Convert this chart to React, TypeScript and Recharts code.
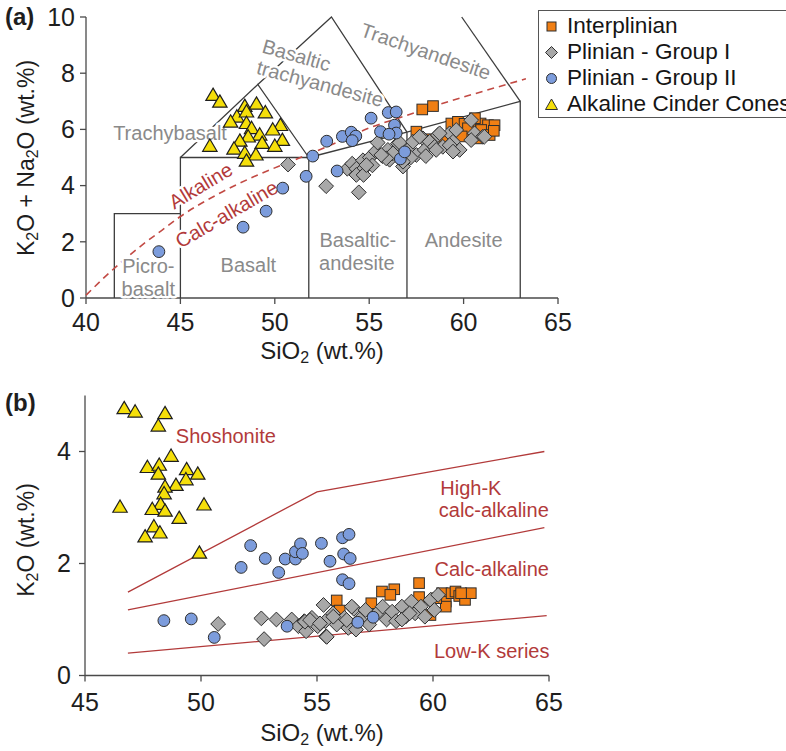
import React from "react";
import { ScatterChart, Scatter, XAxis, YAxis } from "recharts";

const FONT = "'Liberation Sans', Arial, Helvetica, sans-serif";

type P = [number, number];

// ---------- (a) TAS diagram ----------
const tasXTicks = [40, 45, 50, 55, 60, 65];
const tasYTicks = [0, 2, 4, 6, 8, 10];

const tasInterplinian: P[] = [
  [57.81, 6.71], [58.38, 6.83], [57.5, 5.92], [59.35, 6.21], [59.7, 6.27], [60.05, 6.2],
  [60.58, 6.21], [60.9, 6.21], [61.29, 6.15], [61.64, 6.15], [60.93, 5.98], [61.38, 5.8],
  [60.76, 5.68], [60.14, 5.86], [59.44, 5.62], [58.9, 5.74], [60.23, 6.04], [61.6, 5.95],
  [58.3, 5.65], [60.6, 6.4], [59.9, 5.75],
];

const tasGroupI: P[] = [
  [50.7, 4.75], [52.72, 3.98], [54.45, 3.76], [53.84, 4.6], [54.1, 4.78], [54.32, 4.6],
  [54.65, 4.56], [54.67, 4.9], [54.32, 4.38], [54.7, 4.38], [55.03, 5.0], [55.17, 4.72],
  [55.35, 5.22], [55.45, 5.53], [55.7, 5.05], [55.99, 5.27], [56.08, 4.92], [56.26, 5.15],
  [56.52, 5.5], [56.61, 5.53], [56.79, 4.68], [57.05, 5.27], [57.32, 5.56], [57.5, 5.09],
  [57.85, 5.68], [57.94, 5.27], [58.2, 5.56], [58.47, 5.38], [58.64, 5.8], [58.9, 5.38],
  [59.26, 5.86], [59.44, 5.56], [59.61, 5.98], [59.79, 5.27], [60.4, 6.33], [60.58, 5.86],
  [61.02, 5.74], [54.85, 4.73], [55.9, 4.97], [55.64, 5.09], [57.2, 5.0], [58.0, 5.05],
  [58.55, 5.27], [59.26, 5.44], [59.44, 5.21], [60.4, 5.62], [61.1, 5.74], [56.79, 4.85],
  [57.67, 5.74], [58.73, 5.86],
];

const tasGroupII: P[] = [
  [43.86, 1.65], [48.32, 2.52], [49.54, 3.09], [50.42, 3.91], [51.66, 4.33], [52.01, 5.05],
  [52.75, 5.58], [53.3, 4.52], [53.58, 5.75], [54.05, 5.9], [54.29, 5.76], [54.1, 5.6],
  [55.1, 6.4], [55.6, 5.92], [56.01, 6.6], [56.43, 6.62], [56.34, 6.15], [56.43, 5.87],
  [56.05, 5.83], [56.65, 4.95], [56.88, 5.2],
];

const tasCinder: P[] = [
  [46.73, 7.22], [47.09, 6.98], [46.56, 5.41], [48.41, 6.83], [49.03, 6.91], [47.99, 6.45],
  [48.5, 6.63], [49.5, 6.6], [47.66, 6.27], [48.5, 6.22], [48.77, 6.04], [50.3, 6.15],
  [49.89, 5.99], [49.2, 5.81], [48.59, 5.74], [48.15, 5.59], [49.33, 5.51], [50.4, 5.62],
  [50.0, 5.41], [47.84, 5.31], [48.41, 5.16], [49.0, 5.1], [48.5, 4.88],
];

// field boundaries
const tasPicro: P[] = [[41.5, 0], [41.5, 3], [45, 3]];
const tasBasalt: P[] = [[45, 0], [45, 5], [51.8, 5], [51.8, 0]];
const tasTrachybasalt: P[] = [[45, 5], [49.1, 7.6], [51.8, 5]];
const tasBTA: P[] = [[49.1, 7.6], [53, 10], [57, 5.9]];
const tasAndesite: P[] = [[51.8, 5], [57, 5.9], [63, 7], [63, 0]];
const tasBAndesite: P[] = [[57, 5.9], [57, 0]];
const tasTrachyandesite: P[] = [[63, 7], [59.9, 10]];
const tasAlkDivide: P[] = [
  [40, 0.1], [41, 0.75], [42, 1.35], [43, 1.9], [44, 2.4], [45, 2.9], [47, 3.7], [49, 4.35],
  [51, 4.9], [53, 5.45], [55, 6.05], [57, 6.5], [59, 6.95], [61, 7.35], [63.3, 7.8],
];

const tasFieldLabels = [
  { x: 43.3, y: 1.15, text: "Picro-", angle: 0 },
  { x: 43.3, y: 0.33, text: "basalt", angle: 0 },
  { x: 48.6, y: 1.18, text: "Basalt", angle: 0 },
  { x: 54.4, y: 2.07, text: "Basaltic-", angle: 0 },
  { x: 54.35, y: 1.24, text: "andesite", angle: 0 },
  { x: 60.0, y: 2.05, text: "Andesite", angle: 0 },
  { x: 44.45, y: 5.88, text: "Trachybasalt", angle: 0 },
  { x: 51.15, y: 8.64, text: "Basaltic", angle: 16 },
  { x: 52.4, y: 7.63, text: "trachyandesite", angle: 15 },
  { x: 58.0, y: 8.78, text: "Trachyandesite", angle: 19 },
];
const tasSeriesLabels = [
  { x: 46.07, y: 4.0, text: "Alkaline", angle: -31 },
  { x: 47.44, y: 2.99, text: "Calc-alkaline", angle: -30 },
];

// ---------- (b) K2O vs SiO2 ----------
const kXTicks = [45, 50, 55, 60, 65];
const kYTicks = [0, 2, 4];

const kInterplinian: P[] = [
  [55.85, 1.34], [55.98, 1.16], [57.8, 1.5], [58.33, 1.54], [58.16, 1.44], [59.4, 1.65],
  [59.4, 1.4], [57.34, 1.29], [59.89, 1.08], [60.39, 1.47], [60.55, 1.32], [60.8, 1.47],
  [60.97, 1.5], [61.13, 1.42], [61.38, 1.35], [61.63, 1.47], [61.21, 1.47], [60.55, 1.23],
  [60.14, 1.38],
];

const kGroupI: P[] = [
  [50.74, 0.92], [52.6, 1.02], [52.72, 0.65], [53.25, 1.0], [53.91, 1.0], [54.2, 0.88],
  [54.45, 0.97], [54.53, 0.79], [54.78, 1.03], [55.03, 0.88], [55.28, 1.26], [55.36, 0.97],
  [55.39, 0.7], [55.69, 1.11], [55.85, 0.91], [56.18, 1.03], [56.35, 0.85], [56.59, 1.19],
  [56.84, 1.0], [57.09, 1.17], [57.25, 0.91], [57.58, 1.11], [57.83, 1.23], [58.0, 1.0],
  [58.24, 1.14], [58.41, 0.97], [58.66, 1.23], [58.82, 1.05], [59.07, 1.32], [59.23, 1.11],
  [59.48, 1.23], [59.65, 1.05], [59.89, 1.35], [60.06, 1.17], [60.22, 1.44], [56.68, 0.82],
  [58.66, 1.0], [58.99, 1.11], [54.48, 0.96], [54.7, 0.99], [55.13, 0.93], [55.42, 0.69],
  [55.7, 1.05], [56.28, 0.99], [56.5, 1.23],
];

const kGroupII: P[] = [
  [48.4, 0.98], [49.58, 1.01], [50.57, 0.68], [51.73, 1.93], [52.14, 2.32], [52.77, 2.09],
  [53.35, 1.84], [53.63, 2.08], [54.07, 2.08], [54.07, 2.21], [54.29, 2.35], [54.37, 2.18],
  [55.19, 2.36], [55.56, 2.04], [56.1, 2.46], [56.38, 2.52], [56.15, 2.17], [56.43, 2.09],
  [56.1, 1.71], [56.38, 1.64], [53.71, 0.88], [56.76, 0.95], [57.42, 1.04],
];

const kCinder: P[] = [
  [46.69, 4.77], [47.16, 4.71], [48.45, 4.68], [48.16, 4.46], [48.71, 3.92], [47.69, 3.72],
  [48.2, 3.76], [48.16, 3.6], [49.38, 3.68], [49.86, 3.6], [49.35, 3.5], [48.92, 3.4],
  [48.45, 3.37], [48.41, 3.25], [46.51, 3.01], [48.26, 3.06], [47.9, 2.97], [48.45, 2.94],
  [50.13, 3.05], [49.06, 2.81], [47.97, 2.66], [47.59, 2.48], [48.23, 2.55], [49.93, 2.19],
];

const kShoshoniteLine: P[] = [[46.85, 1.49], [55, 3.28], [64.8, 4.0]];
const kHighKLine: P[] = [[46.85, 1.17], [64.8, 2.64]];
const kLowKLine: P[] = [[46.85, 0.4], [64.9, 1.07]];

const kSeriesLabels = [
  { x: 51.07, y: 4.28, text: "Shoshonite", angle: 0 },
  { x: 61.63, y: 3.34, text: "High-K", angle: 0 },
  { x: 62.62, y: 2.95, text: "calc-alkaline", angle: 0 },
  { x: 62.53, y: 1.91, text: "Calc-alkaline", angle: 0 },
  { x: 62.53, y: 0.43, text: "Low-K series", angle: 0 },
];

// ---------- helpers ----------
const pts = (arr: P[]) => arr.map(([x, y]) => ({ x, y }));

const AXIS = "#4a4a4a";
const EDGE = "#2e2e2e";
const RED = "#b23a3a";
const ORANGE = "#f07f14";
const GRAY = "#a8a8a8";
const BLUE = "#7c9cdc";
const YELLOW = "#f5df0a";

const squareShape = (p: any) => (
  <rect x={p.cx - 5.3} y={p.cy - 5.3} width={10.6} height={10.6} fill={ORANGE} stroke={EDGE} strokeWidth={1} />
);
const diamondShape = (p: any) => (
  <path
    d={`M${p.cx},${p.cy - 7.4}L${p.cx + 7.4},${p.cy}L${p.cx},${p.cy + 7.4}L${p.cx - 7.4},${p.cy}Z`}
    fill={GRAY}
    stroke={EDGE}
    strokeWidth={1}
  />
);
const circleShape = (p: any) => <circle cx={p.cx} cy={p.cy} r={5.9} fill={BLUE} stroke={EDGE} strokeWidth={1} />;
const triangleShape = (p: any) => (
  <path
    d={`M${p.cx},${p.cy - 7}L${p.cx + 7.2},${p.cy + 5.3}L${p.cx - 7.2},${p.cy + 5.3}Z`}
    fill={YELLOW}
    stroke="#1e1e1e"
    strokeWidth={1.2}
  />
);
const noShape = () => <g />;

const labelShape = (color: string, size: number) => (p: any) => {
  const d = p.payload;
  return (
    <text
      transform={`translate(${p.cx},${p.cy}) rotate(${d.angle || 0})`}
      textAnchor="middle"
      dominantBaseline="central"
      fill={color}
      fontSize={size}
      fontFamily={FONT}
      stroke="#fff"
      strokeWidth={5}
      strokeLinejoin="round"
      paintOrder="stroke"
    >
      {d.text}
    </text>
  );
};

const boundary = (arr: P[], key: string, stroke = "#3c3c3c") => (
  <Scatter
    key={key}
    data={pts(arr)}
    shape={noShape}
    line={{ stroke, strokeWidth: 1.3 }}
    isAnimationActive={false}
  />
);

const tickStyle = { fill: "#1e1e1e", fontSize: 25, fontFamily: FONT };

function Legend() {
  const items = [
    { label: "Interplinian", mark: <rect x={8} y={8} width={9} height={9} fill={ORANGE} stroke={EDGE} /> },
    { label: "Plinian - Group I", mark: <path d="M12.5,6.5L18.5,12.5L12.5,18.5L6.5,12.5Z" fill={GRAY} stroke={EDGE} /> },
    { label: "Plinian - Group II", mark: <circle cx={12.5} cy={12.5} r={5} fill={BLUE} stroke={EDGE} /> },
    { label: "Alkaline Cinder Cones", mark: <path d="M12.5,7L18.5,17.5L6.5,17.5Z" fill={YELLOW} stroke={EDGE} /> },
  ];
  return (
    <div
      style={{
        position: "absolute",
        left: 538,
        top: 10,
        width: 280,
        height: 108,
        border: "1px solid #555",
        boxSizing: "border-box",
        background: "#fff",
        fontFamily: FONT,
        fontSize: 22.6,
        color: "#151515",
        paddingTop: 2,
      }}
    >
      {items.map((it) => (
        <div key={it.label} style={{ display: "flex", alignItems: "center", height: 26, whiteSpace: "nowrap" }}>
          <svg width={28} height={25} style={{ flex: "none" }}>
            {it.mark}
          </svg>
          <span>{it.label}</span>
        </div>
      ))}
    </div>
  );
}

export default function App() {
  return (
    <div
      style={{
        position: "absolute",
        left: 0,
        top: 0,
        width: 786,
        height: 751,
        overflow: "hidden",
        background: "#fff",
      }}
    >
      {/* (a) TAS */}
      <div style={{ position: "absolute", left: 0, top: 0 }}>
        <ScatterChart width={786} height={370} margin={{ top: 17, right: 228, bottom: 32, left: 26 }}>
          <XAxis
            type="number"
            dataKey="x"
            domain={[40, 65]}
            ticks={tasXTicks}
            tick={tickStyle}
            tickMargin={9}
            tickSize={6}
            height={40}
            axisLine={{ stroke: AXIS, strokeWidth: 1.3 }}
            tickLine={{ stroke: AXIS, strokeWidth: 1.3 }}
          />
          <YAxis
            type="number"
            dataKey="y"
            domain={[0, 10]}
            ticks={tasYTicks}
            tick={tickStyle}
            tickMargin={5}
            tickSize={6}
            width={60}
            axisLine={{ stroke: AXIS, strokeWidth: 1.3 }}
            tickLine={{ stroke: AXIS, strokeWidth: 1.3 }}
          />
          {boundary(tasPicro, "picro")}
          {boundary(tasBasalt, "basalt")}
          {boundary(tasTrachybasalt, "tb")}
          {boundary(tasBTA, "bta")}
          {boundary(tasAndesite, "and")}
          {boundary(tasBAndesite, "ba")}
          {boundary(tasTrachyandesite, "ta")}
          <Scatter
            data={pts(tasAlkDivide)}
            shape={noShape}
            line={{ stroke: "#c24a44", strokeWidth: 1.6, strokeDasharray: "7 5" }}
            lineJointType="monotoneX"
            isAnimationActive={false}
          />
          <Scatter data={tasFieldLabels} shape={labelShape("#8a8a8a", 20)} isAnimationActive={false} />
          <Scatter data={tasSeriesLabels} shape={labelShape(RED, 20)} isAnimationActive={false} />
          <Scatter data={pts(tasInterplinian)} shape={squareShape} isAnimationActive={false} />
          <Scatter data={pts(tasGroupI)} shape={diamondShape} isAnimationActive={false} />
          <Scatter data={pts(tasGroupII)} shape={circleShape} isAnimationActive={false} />
          <Scatter data={pts(tasCinder)} shape={triangleShape} isAnimationActive={false} />
        </ScatterChart>
      </div>

      {/* (b) K2O vs SiO2 */}
      <div style={{ position: "absolute", left: 0, top: 380 }}>
        <ScatterChart width={786} height={371} margin={{ top: 15.5, right: 237, bottom: 35.5, left: 25 }}>
          <XAxis
            type="number"
            dataKey="x"
            domain={[45, 65]}
            ticks={kXTicks}
            tick={tickStyle}
            tickMargin={12}
            tickSize={6}
            height={40}
            axisLine={{ stroke: AXIS, strokeWidth: 1.3 }}
            tickLine={{ stroke: AXIS, strokeWidth: 1.3 }}
          />
          <YAxis
            type="number"
            dataKey="y"
            domain={[0, 5]}
            ticks={kYTicks}
            tick={tickStyle}
            tickMargin={8}
            tickSize={6}
            width={60}
            axisLine={{ stroke: AXIS, strokeWidth: 1.3 }}
            tickLine={{ stroke: AXIS, strokeWidth: 1.3 }}
          />
          {boundary(kShoshoniteLine, "sho", RED)}
          {boundary(kHighKLine, "hk", RED)}
          {boundary(kLowKLine, "lk", RED)}
          <Scatter data={kSeriesLabels} shape={labelShape(RED, 20)} isAnimationActive={false} />
          <Scatter data={pts(kInterplinian)} shape={squareShape} isAnimationActive={false} />
          <Scatter data={pts(kGroupI)} shape={diamondShape} isAnimationActive={false} />
          <Scatter data={pts(kGroupII)} shape={circleShape} isAnimationActive={false} />
          <Scatter data={pts(kCinder)} shape={triangleShape} isAnimationActive={false} />
        </ScatterChart>
      </div>

      {/* titles */}
      <svg
        width={786}
        height={751}
        style={{ position: "absolute", left: 0, top: 0, pointerEvents: "none" }}
        fontFamily={FONT}
        fill="#1e1e1e"
      >
        <text x={5} y={25} fontSize={24} fontWeight="bold">(a)</text>
        <text x={5} y={411} fontSize={24} fontWeight="bold">(b)</text>

        <text x={322} y={359} fontSize={24} textAnchor="middle">
          SiO<tspan dy={4} fontSize={16}>2</tspan><tspan dy={-4}> (wt.%)</tspan>
        </text>
        <text transform="translate(34,158) rotate(-90)" fontSize={23} textAnchor="middle">
          K<tspan dy={4} fontSize={16}>2</tspan><tspan dy={-4}>O + Na</tspan>
          <tspan dy={4} fontSize={16}>2</tspan><tspan dy={-4}>O (wt.%)</tspan>
        </text>

        <text x={322} y={741} fontSize={24} textAnchor="middle">
          SiO<tspan dy={4} fontSize={16}>2</tspan><tspan dy={-4}> (wt.%)</tspan>
        </text>
        <text transform="translate(34,540) rotate(-90)" fontSize={23} textAnchor="middle">
          K<tspan dy={4} fontSize={16}>2</tspan><tspan dy={-4}>O (wt.%)</tspan>
        </text>
      </svg>

      <Legend />
    </div>
  );
}
